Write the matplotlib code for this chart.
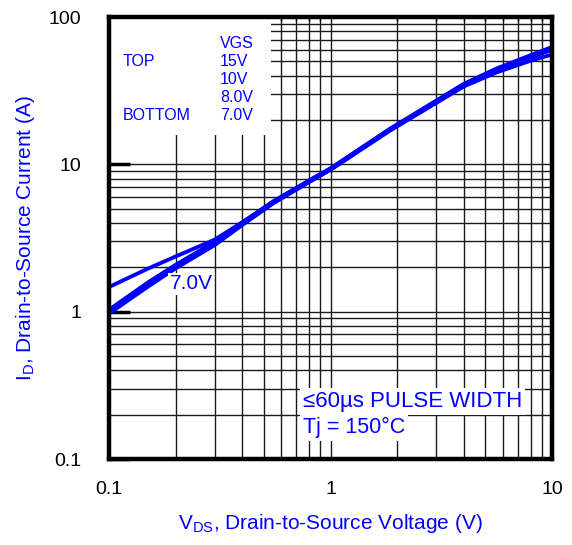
import matplotlib.pyplot as plt
from matplotlib.patches import Rectangle

plt.rcParams["font.family"] = ["Liberation Sans", "DejaVu Sans"]
plt.rcParams["mathtext.fontset"] = "custom"
plt.rcParams["mathtext.rm"] = "Liberation Sans"

BLUE = "#0000ff"

# Output characteristics, Tj = 150C
VDS = [0.1, 0.15, 0.2, 0.3, 0.4, 0.55, 0.85, 1.0, 1.85, 4.0, 5.6, 8.0, 10.0]
ID_15V = [1.03, 1.58, 2.08, 2.98, 4.02, 5.6, 8.2, 9.4, 17.4, 35.2, 44.6, 55.0, 62.5]
ID_10V = [1.0, 1.53, 2.02, 2.9, 3.95, 5.5, 8.1, 9.3, 17.2, 34.8, 44.0, 54.2, 61.7]
ID_8V = [0.97, 1.48, 1.97, 2.83, 3.88, 5.42, 8.0, 9.2, 17.0, 34.3, 43.3, 53.0, 60.0]
ID_7V = [1.47, 1.96, 2.37, 3.08, 4.05, 5.55, 8.0, 9.2, 16.9, 33.8, 42.0, 50.5, 55.6]

VGS_LABELS = ["VGS", "15V", "10V", "8.0V", "7.0V"]
X_TICKS = [0.1, 1, 10]
Y_TICKS = [0.1, 1, 10, 100]


def main() -> None:
    fig = plt.figure(figsize=(5.72, 5.45), dpi=100)
    ax = fig.add_axes([109 / 572, 1 - 459 / 545, 443 / 572, 442 / 545])
    ax.set_xscale("log")
    ax.set_yscale("log")
    ax.set_xlim(0.1, 10)
    ax.set_ylim(0.1, 100)

    ax.set_axisbelow(True)
    ax.grid(which="both", color="0.1", lw=1.0)

    # white legend area without grid
    ax.add_patch(Rectangle((0.1, 15.9), 0.539 - 0.1, 100 - 15.9, facecolor="white",
                           edgecolor="none", zorder=1))

    for ids in (ID_15V, ID_10V, ID_8V, ID_7V):
        ax.plot(VDS, ids, color=BLUE, lw=2.8, zorder=3, solid_capstyle="butt")

    ax.set_xticks(X_TICKS)
    ax.set_xticklabels(["0.1", "1", "10"])
    ax.set_yticks(Y_TICKS)
    ax.set_yticklabels(["0.1", "1", "10", "100"])
    ax.tick_params(axis="both", which="major", labelsize=14, pad=16, direction="in",
                   length=0, width=0)
    ax.tick_params(axis="y", which="major", left=True, length=15, width=2.5, pad=20)
    ax.tick_params(axis="x", which="minor", top=True, bottom=False, direction="in",
                   length=3, width=1)
    ax.tick_params(axis="y", which="minor", left=False, length=0)
    ax.xaxis.set_minor_formatter(plt.NullFormatter())
    ax.yaxis.set_minor_formatter(plt.NullFormatter())

    for sp in ax.spines.values():
        sp.set_linewidth(3.2)
        sp.set_zorder(5)

    ax.set_xlabel(r"V$_\mathregular{DS}$, Drain-to-Source Voltage (V)", color=BLUE,
                  fontsize=15, labelpad=10)
    ax.set_ylabel(r"I$_\mathregular{D}$, Drain-to-Source Current (A)", color=BLUE,
                  fontsize=15, labelpad=8)

    # legend block
    for i, lab in enumerate(VGS_LABELS):
        fig.text(220 / 572, 1 - (43 + 18 * i) / 545, lab, color=BLUE, fontsize=11.5,
                 va="center", ha="left")
    fig.text(123 / 572, 1 - 61 / 545, "TOP", color=BLUE, fontsize=11.5, va="center")
    fig.text(123 / 572, 1 - 115 / 545, "BOTTOM", color=BLUE, fontsize=11.5, va="center")

    # curve label and test conditions
    ax.text(0.235, 1.55, "7.0V", color=BLUE, fontsize=15, ha="center", va="center",
            zorder=4, bbox=dict(facecolor="white", edgecolor="none", pad=1))
    ax.text(0.75, 0.246, "\u226460\u00b5s PULSE WIDTH", color=BLUE, fontsize=16,
            ha="left", va="center", zorder=4,
            bbox=dict(facecolor="white", edgecolor="none", pad=2))
    ax.text(0.75, 0.163, "Tj = 150\u00b0C", color=BLUE, fontsize=15.5,
            ha="left", va="center", zorder=4,
            bbox=dict(facecolor="white", edgecolor="none", pad=2))

    fig.savefig("out.png", dpi=100)
    plt.close(fig)


if __name__ == "__main__":
    main()
